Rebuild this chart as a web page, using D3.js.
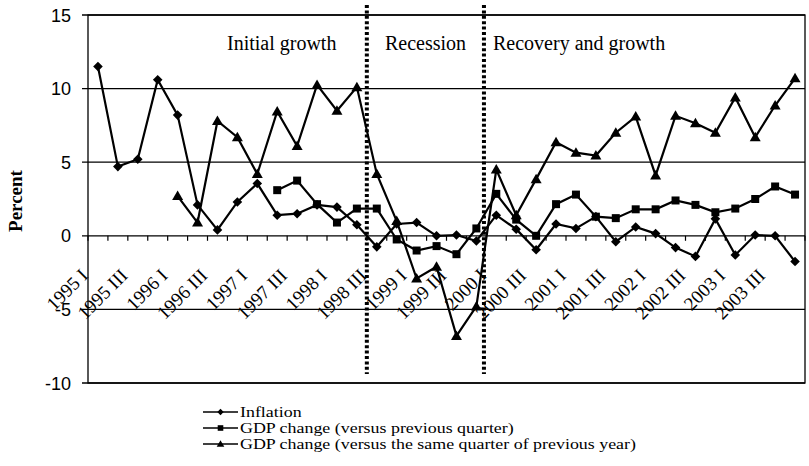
<!DOCTYPE html>
<html>
<head>
<meta charset="utf-8">
<script src="https://cdn.jsdelivr.net/npm/d3@7"></script>
<style>
  html, body { margin: 0; padding: 0; background: #fff; }
  svg { display: block; }
</style>
</head>
<body>
<svg id="chart" width="809" height="466"></svg>
<script>
const categories = [
  "1995 I","1995 II","1995 III","1995 IV",
  "1996 I","1996 II","1996 III","1996 IV",
  "1997 I","1997 II","1997 III","1997 IV",
  "1998 I","1998 II","1998 III","1998 IV",
  "1999 I","1999 II","1999 III","1999 IV",
  "2000 I","2000 II","2000 III","2000 IV",
  "2001 I","2001 II","2001 III","2001 IV",
  "2002 I","2002 II","2002 III","2002 IV",
  "2003 I","2003 II","2003 III","2003 IV"
];
const tickLabels = [
  "1995 I","1995 III","1996 I","1996 III","1997 I","1997 III",
  "1998 I","1998 III","1999 I","1999 III","2000 I","2000 III",
  "2001 I","2001 III","2002 I","2002 III","2003 I","2003 III"
];
const inflation = [11.5, 4.7, 5.2, 10.6, 8.2, 2.1, 0.4, 2.3, 3.55, 1.4, 1.5, 2.1,
  1.95, 0.75, -0.75, 0.8, 0.9, 0.0, 0.05, -0.35, 1.4, 0.45, -0.95, 0.8,
  0.5, 1.3, -0.4, 0.6, 0.15, -0.8, -1.4, 1.15, -1.3, 0.05, 0.0, -1.75];
const gdpQoQ = [null, null, null, null, null, null, null, null, null, 3.1, 3.75, 2.15,
  0.9, 1.85, 1.85, -0.25, -1.0, -0.7, -1.25, 0.5, 2.85, 1.1, 0.0, 2.15,
  2.8, 1.3, 1.2, 1.8, 1.8, 2.4, 2.1, 1.6, 1.85, 2.5, 3.35, 2.8];
const gdpYoY = [null, null, null, null, 2.7, 0.9, 7.8, 6.7, 4.2, 8.45, 6.1, 10.25,
  8.5, 10.1, 4.2, 1.0, -2.9, -2.1, -6.8, -4.8, 4.5, 1.4, 3.85, 6.35,
  5.65, 5.45, 7.0, 8.1, 4.1, 8.15, 7.65, 7.0, 9.4, 6.7, 8.85, 10.7];
const yTicks = [-10, -5, 0, 5, 10, 15];
const seriesNames = ["Inflation", "GDP change (versus previous quarter)",
  "GDP change (versus the same quarter of previous year)"];
const phaseNames = ["Initial growth", "Recession", "Recovery and growth"];
const phaseBounds = [14, 19.88]; // boundaries in category units

const svg = d3.select("#chart");
const L = 88, R = 805, T = 15, B = 383;
const x = d3.scaleBand().domain(categories).range([L, R]).padding(0);
const y = d3.scaleLinear().domain([-10, 15]).range([B, T]);
const bw = x.bandwidth();
const cx = c => x(c) + bw / 2;

const serif = "'Liberation Serif','Times New Roman',Times,serif";
const sans = "'Liberation Sans',Arial,Helvetica,sans-serif";

// gridlines
svg.append("g").selectAll("line").data(yTicks).join("line")
  .attr("x1", L - 6).attr("x2", R)
  .attr("y1", d => y(d)).attr("y2", d => y(d))
  .attr("stroke", "#000").attr("stroke-width", 1.3);
// frame
svg.append("rect").attr("x", L).attr("y", T).attr("width", R - L).attr("height", B - T)
  .attr("fill", "none").attr("stroke", "#000").attr("stroke-width", 1.3);

// y axis labels
svg.append("g").selectAll("text").data(yTicks).join("text")
  .attr("x", 71).attr("y", d => y(d) + 6.5)
  .attr("text-anchor", "end")
  .attr("font-family", sans).attr("font-size", 18)
  .text(d => d);

// y title
svg.append("text")
  .attr("transform", `translate(22,${(T + B) / 2 + 2}) rotate(-90)`)
  .attr("text-anchor", "middle")
  .attr("font-family", serif).attr("font-weight", "bold").attr("font-size", 19)
  .text("Percent");

// x ticks at category boundaries on zero line
const bounds = categories.map(c => x(c)).concat([R]);
svg.append("g").selectAll("line").data(bounds).join("line")
  .attr("x1", d => d).attr("x2", d => d)
  .attr("y1", y(0)).attr("y2", y(0) + 5)
  .attr("stroke", "#000").attr("stroke-width", 1.2);

// x labels
svg.append("g").selectAll("text").data(tickLabels).join("text")
  .attr("transform", d => `translate(${cx(d) - 9},${y(0) + 41}) rotate(-45)`)
  .attr("text-anchor", "end")
  .attr("font-family", serif).attr("font-size", 19)
  .text(d => d);

// phase dividers
svg.append("g").selectAll("line").data(phaseBounds).join("line")
  .attr("x1", d => L + d * bw).attr("x2", d => L + d * bw)
  .attr("y1", 5).attr("y2", 374)
  .attr("stroke", "#000").attr("stroke-width", 4)
  .attr("stroke-dasharray", "3,2.4");

// phase labels
const phaseX = [227, 385, 493];
svg.append("g").selectAll("text").data(phaseNames).join("text")
  .attr("x", (d, i) => phaseX[i]).attr("y", 50)
  .attr("font-family", serif).attr("font-size", 20)
  .text(d => d);

// series
const shapes = {
  diamond: "M0,-4.8L4.8,0L0,4.8L-4.8,0Z",
  square: "M-4,-4H4V4H-4Z",
  triangle: "M0,-5.5L5.5,4L-5.5,4Z"
};
const smallShapes = {
  diamond: "M0,-3.2L3.2,0L0,3.2L-3.2,0Z",
  square: "M-2.8,-2.8H2.8V2.8H-2.8Z",
  triangle: "M0,-3.8L3.8,2.8L-3.8,2.8Z"
};
const series = [
  { name: seriesNames[0], values: inflation, shape: "diamond" },
  { name: seriesNames[1], values: gdpQoQ, shape: "square" },
  { name: seriesNames[2], values: gdpYoY, shape: "triangle" }
];
const line = d3.line()
  .defined(d => d.v !== null)
  .x(d => cx(d.c)).y(d => y(d.v));

series.forEach(s => {
  const pts = categories.map((c, i) => ({ c, v: s.values[i] }));
  svg.append("path").datum(pts)
    .attr("d", line).attr("fill", "none")
    .attr("stroke", "#000").attr("stroke-width", 2.2).attr("stroke-linejoin", "miter");
  svg.append("g").selectAll("path").data(pts.filter(d => d.v !== null)).join("path")
    .attr("transform", d => `translate(${cx(d.c)},${y(d.v)})`)
    .attr("d", shapes[s.shape]).attr("fill", "#000");
});

// legend
const lg = svg.append("g").attr("transform", "translate(203,412)");
series.forEach((s, i) => {
  const g = lg.append("g").attr("transform", `translate(0,${i * 16})`);
  g.append("line").attr("x1", 0).attr("x2", 35).attr("y1", 0).attr("y2", 0)
    .attr("stroke", "#000").attr("stroke-width", 1.5);
  g.append("path").attr("transform", "translate(17.5,0)")
    .attr("d", smallShapes[s.shape]).attr("fill", "#000");
  g.append("text").attr("transform", "translate(37,5) scale(1.28,1)")
    .attr("font-family", serif).attr("font-size", 14)
    .text(s.name);
});
</script>
</body>
</html>
